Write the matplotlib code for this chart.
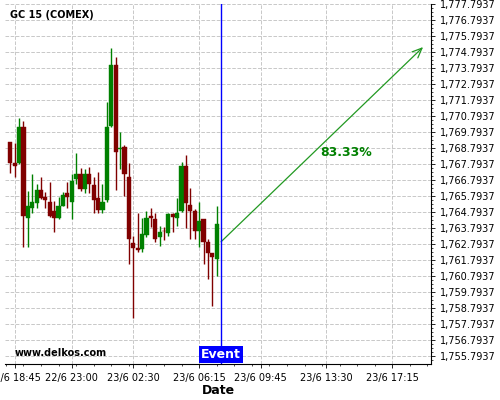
#
# GC 15 (COMEX) candles with event marker and projected target arrow
#

import numpy as np
import matplotlib
matplotlib.use("Agg")
import matplotlib.pyplot as plt
from matplotlib.ticker import FixedLocator

# 15 min candles, x is the candle index
opens = [1769.18, 1767.89, 1767.85, 1770.10, 1764.45, 1765.08, 1765.39, 1766.18, 1765.75, 1765.43,
         1764.87, 1764.45, 1765.20, 1766.00, 1765.45, 1766.89, 1767.17, 1766.25, 1767.17, 1766.50,
         1765.67, 1764.93, 1765.56, 1770.18, 1774.00, 1768.73, 1768.85, 1766.98, 1762.85, 1762.54,
         1762.48, 1763.37, 1764.56, 1764.37, 1763.27, 1763.63, 1763.48, 1764.68, 1764.45, 1764.87,
         1767.68, 1765.25, 1764.87, 1763.64, 1764.37, 1762.93, 1762.27, 1761.85]
highs = [1769.18, 1769.14, 1770.67, 1770.50, 1766.14, 1767.17, 1766.56, 1766.98, 1766.04, 1766.70,
         1765.52, 1765.73, 1766.04, 1766.70, 1767.17, 1768.48, 1767.54, 1767.48, 1767.64, 1767.00,
         1767.33, 1766.54, 1771.67, 1775.04, 1774.48, 1769.83, 1769.00, 1767.85, 1763.33, 1764.73,
         1764.42, 1764.89, 1765.04, 1764.73, 1763.93, 1763.85, 1764.77, 1764.75, 1765.67, 1767.95,
         1768.37, 1766.33, 1765.00, 1765.42, 1764.37, 1763.10, 1762.27, 1765.18]
lows = [1767.23, 1767.01, 1767.81, 1762.64, 1762.60, 1764.73, 1765.04, 1765.60, 1765.04, 1764.52,
        1763.58, 1764.35, 1765.20, 1765.04, 1764.35, 1766.56, 1766.14, 1765.98, 1765.98, 1764.73,
        1764.73, 1764.73, 1765.42, 1770.10, 1766.18, 1767.48, 1765.83, 1761.54, 1758.16, 1762.33,
        1762.33, 1763.27, 1763.89, 1762.95, 1762.68, 1763.06, 1763.33, 1763.58, 1763.93, 1764.83,
        1763.79, 1763.10, 1763.10, 1762.60, 1761.54, 1760.60, 1758.93, 1760.81]
closes = [1767.89, 1767.70, 1770.10, 1764.58, 1765.18, 1765.42, 1766.18, 1765.70, 1765.58, 1764.58,
          1764.45, 1765.18, 1765.87, 1765.73, 1766.75, 1767.17, 1766.25, 1767.17, 1766.56, 1765.56,
          1764.93, 1765.42, 1770.10, 1774.00, 1768.58, 1768.83, 1767.18, 1763.10, 1762.58, 1762.43,
          1763.43, 1764.42, 1764.42, 1763.14, 1763.56, 1763.61, 1764.68, 1764.48, 1764.73, 1767.68,
          1765.39, 1764.87, 1763.64, 1764.25, 1762.95, 1762.27, 1761.98, 1764.06]

tick_pos = [1, 14, 28, 43, 57, 72, 87]
tick_labels = ["22/6 18:45", "22/6 23:00", "23/6 02:30", "23/6 06:15",
               "23/6 09:45", "23/6 13:30", "23/6 17:15"]

price_ticks = [1755.7937 + i for i in range(23)]

event_x = 48
arrow_start = (48, 1762.95)
arrow_end = (94, 1775.12)
prob_label = "83.33%"
prob_pos = (76.4, 1768.5)

GREEN = "#008000"
RED = "#800000"


def main():
    fig = plt.figure(figsize=(5, 4), dpi=100)
    ax = fig.add_axes([0.01, 0.09, 0.852, 0.90])

    x = np.arange(len(opens))
    o = np.array(opens)
    c = np.array(closes)
    colors = [GREEN if cc >= oo else RED for oo, cc in zip(o, c)]

    # wicks and bodies
    ax.vlines(x, lows, highs, colors=colors, linewidth=1.0, zorder=3)
    bottoms = np.minimum(o, c)
    heights = np.maximum(np.abs(c - o), 0.04)
    ax.bar(x, heights, bottom=bottoms, width=0.95, color=colors,
           edgecolor=colors, linewidth=0.3, zorder=4)

    ax.set_xlim(-1.2, 95.8)
    ax.set_ylim(1755.31, 1777.81)

    # axes styling
    for side in ["left", "top"]:
        ax.spines[side].set_visible(False)
    ax.yaxis.tick_right()
    ax.set_yticks(price_ticks)
    ax.set_yticklabels(["{:,.4f}".format(p) for p in price_ticks])
    ax.yaxis.set_minor_locator(FixedLocator(np.arange(1755.2937, 1777.81, 0.25)))
    ax.set_xticks(tick_pos)
    ax.set_xticklabels(tick_labels)
    ax.xaxis.set_minor_locator(FixedLocator(np.arange(-1, 96, 4.0)))
    ax.tick_params(axis="both", which="major", labelsize=7, length=3, width=0.6, colors="black")
    ax.tick_params(axis="both", which="minor", length=1.5, width=0.5)
    ax.grid(True, which="major", color="#c8c8c8", linestyle="--", linewidth=0.7, zorder=0)
    ax.set_axisbelow(True)

    ax.set_xlabel("Date", fontsize=9, fontweight="bold", labelpad=1)

    # event marker
    ax.axvline(event_x, color="blue", linewidth=1.0, zorder=5)
    ax.annotate("Event", xy=(event_x, 0.0), xycoords=("data", "axes fraction"),
                xytext=(0, 2), textcoords="offset points",
                ha="center", va="bottom", color="white", fontsize=9, fontweight="bold",
                bbox=dict(boxstyle="square,pad=0.15", fc="blue", ec="none"), zorder=6)

    # projection
    ax.annotate("", xy=arrow_end, xytext=arrow_start,
                arrowprops=dict(arrowstyle="->,head_length=0.7,head_width=0.3",
                                color="#229922", lw=0.9, shrinkA=0, shrinkB=0))
    ax.text(prob_pos[0], prob_pos[1], prob_label, color=GREEN, fontsize=9,
            fontweight="bold", ha="center", va="center")

    ax.text(0.012, 0.97, "GC 15 (COMEX)", transform=ax.transAxes, fontsize=7,
            fontweight="bold", va="center", ha="left")
    ax.text(0.023, 0.03, "www.delkos.com", transform=ax.transAxes, fontsize=7,
            fontweight="bold", va="center", ha="left")

    fig.savefig("out.png", dpi=100)


if __name__ == "__main__":
    main()
